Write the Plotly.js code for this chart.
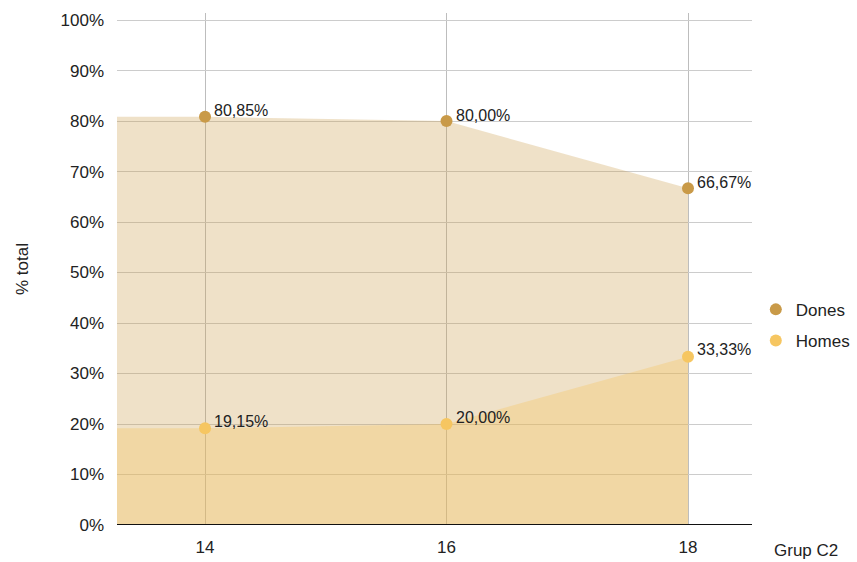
<!DOCTYPE html>
<html>
<head>
<meta charset="utf-8">
<script src="https://cdn.plot.ly/plotly-3.0.1.min.js"></script>
<style>
  html, body { margin: 0; padding: 0; background: #ffffff; }
  #chart { width: 857px; height: 562px; }
</style>
</head>
<body>
<div id="chart"></div>
<script>
// Share of women (Dones) and men (Homes) per age group in Grup C2
const ages = [14, 16, 18];
const tickLabels = ['14', '16', '18'];
const dones = [80.85, 80.00, 66.67];
const homes = [19.15, 20.00, 33.33];
const donesLabels = ['80,85%', '80,00%', '66,67%'];
const homesLabels = ['19,15%', '20,00%', '33,33%'];
const yTickVals = [0, 10, 20, 30, 40, 50, 60, 70, 80, 90, 100];
const yTickText = ['0%', '10%', '20%', '30%', '40%', '50%', '60%', '70%', '80%', '90%', '100%'];

const xRange = [13.271, 18.53];
const yRange = [0, 101.4];

const donesColor = '#c99a48';
const homesColor = '#f6c661';
const fontFamily = '"Liberation Sans", Arial, sans-serif';

// Areas start at the left edge of the plot, holding the first value flat
const fillX = [xRange[0]].concat(ages);

const traces = [
  {
    x: fillX, y: [dones[0]].concat(dones),
    type: 'scatter', mode: 'lines', fill: 'tozeroy',
    line: { width: 0, color: donesColor },
    fillcolor: 'rgba(201,154,72,0.3)',
    showlegend: false, hoverinfo: 'skip'
  },
  {
    x: fillX, y: [homes[0]].concat(homes),
    type: 'scatter', mode: 'lines', fill: 'tozeroy',
    line: { width: 0, color: homesColor },
    fillcolor: 'rgba(246,198,97,0.35)',
    showlegend: false, hoverinfo: 'skip'
  },
  {
    x: ages, y: dones, name: 'Dones', legendgroup: 'd',
    type: 'scatter', mode: 'markers',
    marker: { color: donesColor, size: 12 }
  },
  {
    x: ages, y: homes, name: 'Homes', legendgroup: 'h',
    type: 'scatter', mode: 'markers',
    marker: { color: homesColor, size: 12 }
  }
];

const labelFont = { family: fontFamily, size: 16, color: '#222222' };
const axisFont = { family: fontFamily, size: 17, color: '#222222' };
const annotations = [];
ages.forEach((a, i) => {
  annotations.push({
    x: a, y: dones[i], xref: 'x', yref: 'y', text: donesLabels[i],
    showarrow: false, xanchor: 'left', yanchor: 'middle',
    xshift: 7, yshift: 6, font: labelFont
  });
  annotations.push({
    x: a, y: homes[i], xref: 'x', yref: 'y', text: homesLabels[i],
    showarrow: false, xanchor: 'left', yanchor: 'middle',
    xshift: 7, yshift: 7, font: labelFont
  });
});
annotations.push({
  x: 1.031, y: 0, xref: 'paper', yref: 'paper', text: 'Grup C2',
  showarrow: false, xanchor: 'left', yanchor: 'middle', yshift: -25,
  font: axisFont
});
annotations.push({
  x: -0.1496, y: 0.5, xref: 'paper', yref: 'paper', text: '% total',
  showarrow: false, textangle: -90, xanchor: 'center', yanchor: 'middle',
  font: axisFont
});

const layout = {
  width: 857, height: 562,
  margin: { l: 117, r: 105, t: 13, b: 37, autoexpand: false },
  paper_bgcolor: '#ffffff', plot_bgcolor: '#ffffff',
  font: { family: fontFamily, color: '#222222' },
  xaxis: {
    range: xRange, tickvals: ages, ticktext: tickLabels,
    showgrid: true, gridcolor: '#bdbdbd', gridwidth: 1,
    zeroline: false, showline: false, ticks: '',
    ticklabelstandoff: 10,
    tickfont: axisFont,
    fixedrange: true
  },
  yaxis: {
    range: yRange, tickvals: yTickVals, ticktext: yTickText,
    showgrid: true, gridcolor: '#cccccc', gridwidth: 1,
    zeroline: false, showline: false, ticks: '',
    ticklabelstandoff: 12,
    tickfont: axisFont,
    fixedrange: true
  },
  shapes: [{
    type: 'line', xref: 'paper', yref: 'y', x0: 0, x1: 1, y0: 0, y1: 0,
    line: { color: '#111111', width: 2 }
  }],
  legend: {
    x: 1.006, y: 0.39, xanchor: 'left', yanchor: 'middle',
    font: { family: fontFamily, size: 17, color: '#222222' },
    itemwidth: 30, tracegroupgap: 6, traceorder: 'grouped',
    bgcolor: 'rgba(0,0,0,0)'
  },
  annotations: annotations,
  showlegend: true
};

Plotly.newPlot('chart', traces, layout, { displayModeBar: false, staticPlot: true });
</script>
</body>
</html>
